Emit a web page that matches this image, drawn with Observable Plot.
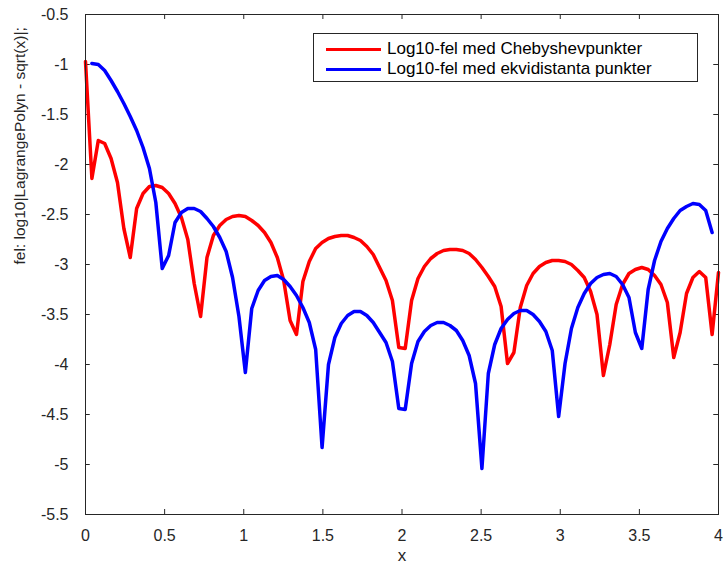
<!DOCTYPE html>
<html>
<head>
<meta charset="utf-8">
<script src="https://cdn.jsdelivr.net/npm/d3@7"></script>
<script src="https://cdn.jsdelivr.net/npm/@observablehq/plot@0.6"></script>
<style>
  html, body { margin: 0; padding: 0; background: #fff; }
  #wrap { position: relative; width: 723px; height: 570px; font-family: "Liberation Sans", Arial, sans-serif; }
  #legend { position: absolute; left: 313px; top: 33px; width: 385px; height: 49px; border: 1px solid #262626; background: #fff; box-sizing: border-box; }
  .row { position: absolute; left: 0; height: 20px; display: flex; align-items: center; font-size: 17px; color: #000; }
  .sw { width: 55px; height: 0; border-top: 3.5px solid; margin-left: 12px; margin-right: 6px; }
</style>
</head>
<body>
<div id="wrap"></div>
<script>
// sample grid (x)
const xs = [0, 0.0404, 0.0808, 0.1212, 0.1616, 0.2020, 0.2424, 0.2828, 0.3232, 0.3636,
  0.4040, 0.4444, 0.4848, 0.5253, 0.5657, 0.6061, 0.6465, 0.6869, 0.7273, 0.7677,
  0.8081, 0.8485, 0.8889, 0.9293, 0.9697, 1.0101, 1.0505, 1.0909, 1.1313, 1.1717,
  1.2121, 1.2525, 1.2929, 1.3333, 1.3737, 1.4141, 1.4545, 1.4949, 1.5354, 1.5758,
  1.6162, 1.6566, 1.6970, 1.7374, 1.7778, 1.8182, 1.8586, 1.8990, 1.9394, 1.9798,
  2.0202, 2.0606, 2.1010, 2.1414, 2.1818, 2.2222, 2.2626, 2.3030, 2.3434, 2.3838,
  2.4242, 2.4646, 2.5051, 2.5455, 2.5859, 2.6263, 2.6667, 2.7071, 2.7475, 2.7879,
  2.8283, 2.8687, 2.9091, 2.9495, 2.9899, 3.0303, 3.0707, 3.1111, 3.1515, 3.1919,
  3.2323, 3.2727, 3.3131, 3.3535, 3.3939, 3.4343, 3.4747, 3.5152, 3.5556, 3.5960,
  3.6364, 3.6768, 3.7172, 3.7576, 3.7980, 3.8384, 3.8788, 3.9192, 3.9596, 4.0000];

// Log10 error, Chebyshev nodes (red)
const chebErr = [-0.97, -2.14, -1.76, -1.79, -1.94, -2.18, -2.64, -2.93, -2.44, -2.29,
  -2.22, -2.21, -2.23, -2.29, -2.39, -2.53, -2.75, -3.19, -3.52, -2.93,
  -2.71, -2.61, -2.55, -2.52, -2.51, -2.52, -2.56, -2.61, -2.68, -2.78,
  -2.93, -3.16, -3.56, -3.70, -3.17, -2.97, -2.84, -2.78, -2.74, -2.72,
  -2.71, -2.71, -2.73, -2.76, -2.82, -2.90, -3.03, -3.16, -3.36, -3.83,
  -3.84, -3.36, -3.14, -3.02, -2.94, -2.89, -2.86, -2.85, -2.85, -2.86,
  -2.89, -2.95, -3.03, -3.12, -3.22, -3.42, -3.99, -3.88, -3.43, -3.21,
  -3.09, -3.02, -2.98, -2.96, -2.96, -2.97, -3.00, -3.06, -3.13, -3.27,
  -3.50, -4.11, -3.80, -3.40, -3.20, -3.09, -3.05, -3.03, -3.05, -3.11,
  -3.20, -3.38, -3.93, -3.68, -3.29, -3.13, -3.07, -3.13, -3.70, -3.08];

// Log10 error, equidistant nodes (blue)
const equiErr = [null, -0.99, -1.00, -1.06, -1.16, -1.27, -1.39, -1.52, -1.66, -1.83,
  -2.04, -2.38, -3.04, -2.91, -2.58, -2.48, -2.44, -2.44, -2.47, -2.54,
  -2.62, -2.73, -2.87, -3.13, -3.52, -4.08, -3.44, -3.26, -3.16, -3.12,
  -3.11, -3.15, -3.22, -3.31, -3.43, -3.58, -3.85, -4.83, -4.00, -3.73,
  -3.59, -3.51, -3.47, -3.47, -3.51, -3.58, -3.68, -3.78, -3.97, -4.44,
  -4.45, -3.99, -3.77, -3.67, -3.61, -3.58, -3.58, -3.61, -3.66, -3.76,
  -3.91, -4.19, -5.04, -4.09, -3.80, -3.64, -3.55, -3.49, -3.46, -3.46,
  -3.50, -3.57, -3.67, -3.86, -4.52, -3.99, -3.64, -3.43, -3.29, -3.19,
  -3.13, -3.10, -3.09, -3.12, -3.20, -3.33, -3.68, -3.84, -3.25, -2.96,
  -2.77, -2.64, -2.54, -2.46, -2.42, -2.39, -2.40, -2.46, -2.68, null];

const xTicks = [0, 0.5, 1, 1.5, 2, 2.5, 3, 3.5, 4];
const yTicks = [-5.5, -5, -4.5, -4, -3.5, -3, -2.5, -2, -1.5, -1, -0.5];
const seriesNames = ["Log10-fel med Chebyshevpunkter", "Log10-fel med ekvidistanta punkter"];
const seriesColors = ["#ff0000", "#0000ff"];
const xLabel = "x";
const yLabel = "fel: log10|LagrangePolyn - sqrt(x)|;";

const red = xs.map((x, i) => ({x, y: chebErr[i]}));
const blue = xs.map((x, i) => ({x, y: equiErr[i]}));
const axisColor = "#262626";

const chart = Plot.plot({
  width: 723,
  height: 570,
  marginLeft: 85,
  marginRight: 5,
  marginTop: 14,
  marginBottom: 56,
  style: {fontFamily: "'Liberation Sans', Arial, sans-serif", fontSize: "16px", color: "#262626", background: "#fff"},
  x: {domain: [0, 4], label: null},
  y: {domain: [-5.5, -0.5], label: null},
  marks: [
    Plot.axisX(xTicks, {tickSize: 0, tickPadding: 15, tickFormat: d => String(d), fill: axisColor, fontSize: 16}),
    Plot.axisY(yTicks, {tickSize: 0, tickPadding: 17, tickFormat: d => String(d), fill: axisColor, fontSize: 16}),
    Plot.ruleX(xTicks, {x: d => d, y1: -5.5, y2: -5.45, stroke: axisColor}),
    Plot.ruleX(xTicks, {x: d => d, y1: -0.5, y2: -0.55, stroke: axisColor}),
    Plot.ruleY(yTicks, {y: d => d, x1: 0, x2: 0.03, stroke: axisColor}),
    Plot.ruleY(yTicks, {y: d => d, x1: 4, x2: 3.97, stroke: axisColor}),
    Plot.line(red, {x: "x", y: "y", stroke: seriesColors[0], strokeWidth: 3.5, strokeLinejoin: "round"}),
    Plot.line(blue, {x: "x", y: "y", stroke: seriesColors[1], strokeWidth: 3.5, strokeLinejoin: "round"}),
    Plot.frame({stroke: axisColor, strokeWidth: 1}),
    Plot.text([xLabel], {frameAnchor: "bottom", dy: 46, fontSize: 17, fill: axisColor}),
    Plot.text([yLabel], {frameAnchor: "left", dx: -65, rotate: -90, fontSize: 15.5, fill: axisColor})
  ]
});

const wrap = document.getElementById("wrap");
wrap.appendChild(chart);
const legend = document.createElement("div");
legend.id = "legend";
seriesNames.forEach((name, i) => {
  const row = document.createElement("div");
  row.className = "row";
  row.style.top = (5 + i * 20) + "px";
  const sw = document.createElement("span");
  sw.className = "sw";
  sw.style.borderTopColor = seriesColors[i];
  const t = document.createElement("span");
  t.textContent = name;
  row.appendChild(sw);
  row.appendChild(t);
  legend.appendChild(row);
});
wrap.appendChild(legend);
</script>
</body>
</html>
